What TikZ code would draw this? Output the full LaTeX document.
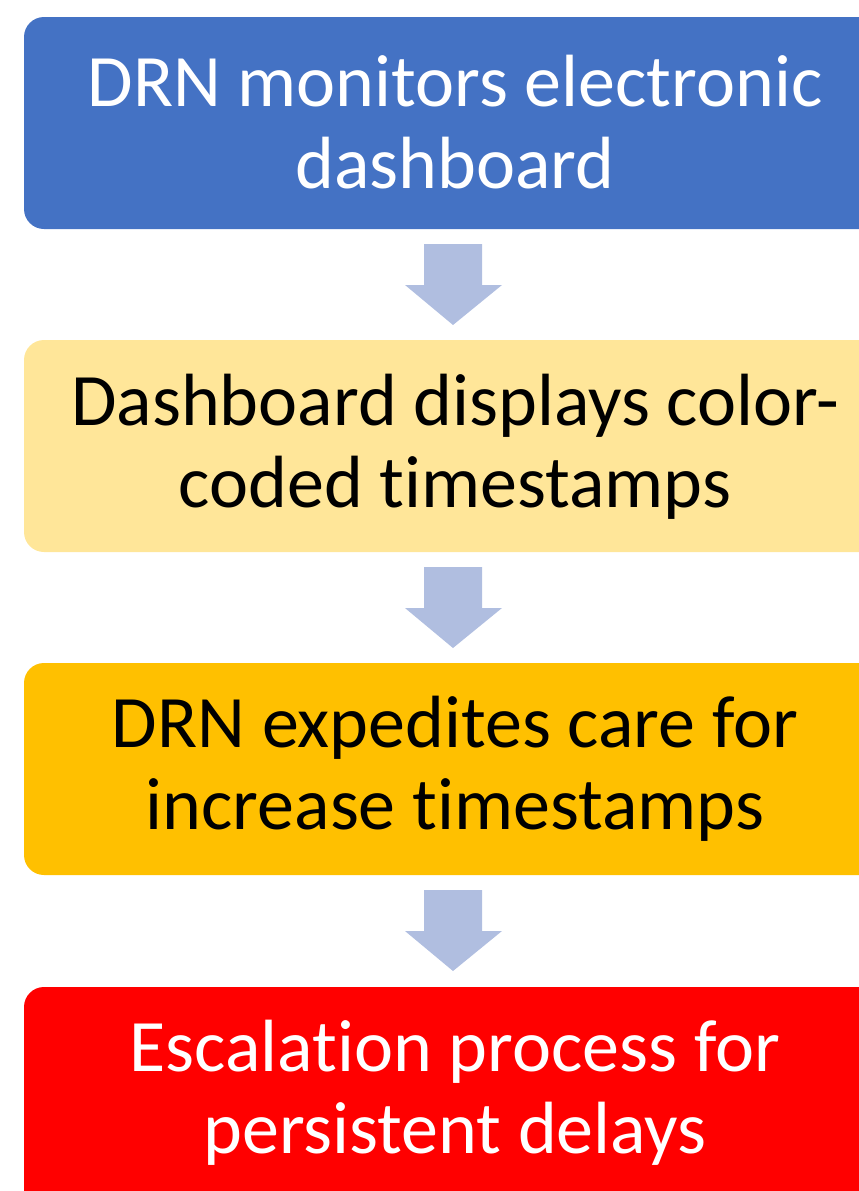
\documentclass[tikz,border=0pt]{standalone}
\usepackage{fontspec}
\setmainfont{Carlito}[Ligatures={NoCommon,NoContextual}]
\newcommand\nl{\kern0pt }
\definecolor{bblue}{HTML}{4472C4}
\definecolor{byellow}{HTML}{FFE699}
\definecolor{borange}{HTML}{FFC000}
\definecolor{bred}{HTML}{FF0000}
\definecolor{arr}{HTML}{B0BEE0}
\begin{document}
\begin{tikzpicture}[x=1pt,y=-1pt,
  stepbox/.style={rounded corners=20pt,inner sep=0pt},
  steptext/.style={align=center,font=\fontsize{74}{82}\selectfont,inner sep=0pt},
  downarrow/.style={fill=arr,draw=none}]
\useasboundingbox (0,0) rectangle (859,1191);
\clip (0,0) rectangle (859,1191);
\fill[bblue,stepbox] (24,17) rectangle (900,229);
\fill[byellow,stepbox] (24,340) rectangle (900,552);
\fill[borange,stepbox] (24,663) rectangle (900,875);
\fill[bred,stepbox] (24,987) rectangle (900,1230);
\node[steptext,text=white] (t1) at (455,122) {DRN monitors electronic\\dashboard};
\node[steptext,text=black] (t2) at (455,447) {Dashboard displays color-\\coded t\nl imestamps};
\node[steptext,text=black] (t3) at (455,769) {DRN expedites care for\\increase t\nl imestamps};
\node[steptext,text=white] (t4) at (455,1093) {Escalat\nl ion process for\\persistent delays};
\foreach \dy in {0,323,646}{
  \fill[downarrow] (424,244+\dy) -- (482,244+\dy) -- (482,285+\dy) -- (502,285+\dy) -- (453,325+\dy) -- (405,285+\dy) -- (424,285+\dy) -- cycle;
}
\end{tikzpicture}
\end{document}
